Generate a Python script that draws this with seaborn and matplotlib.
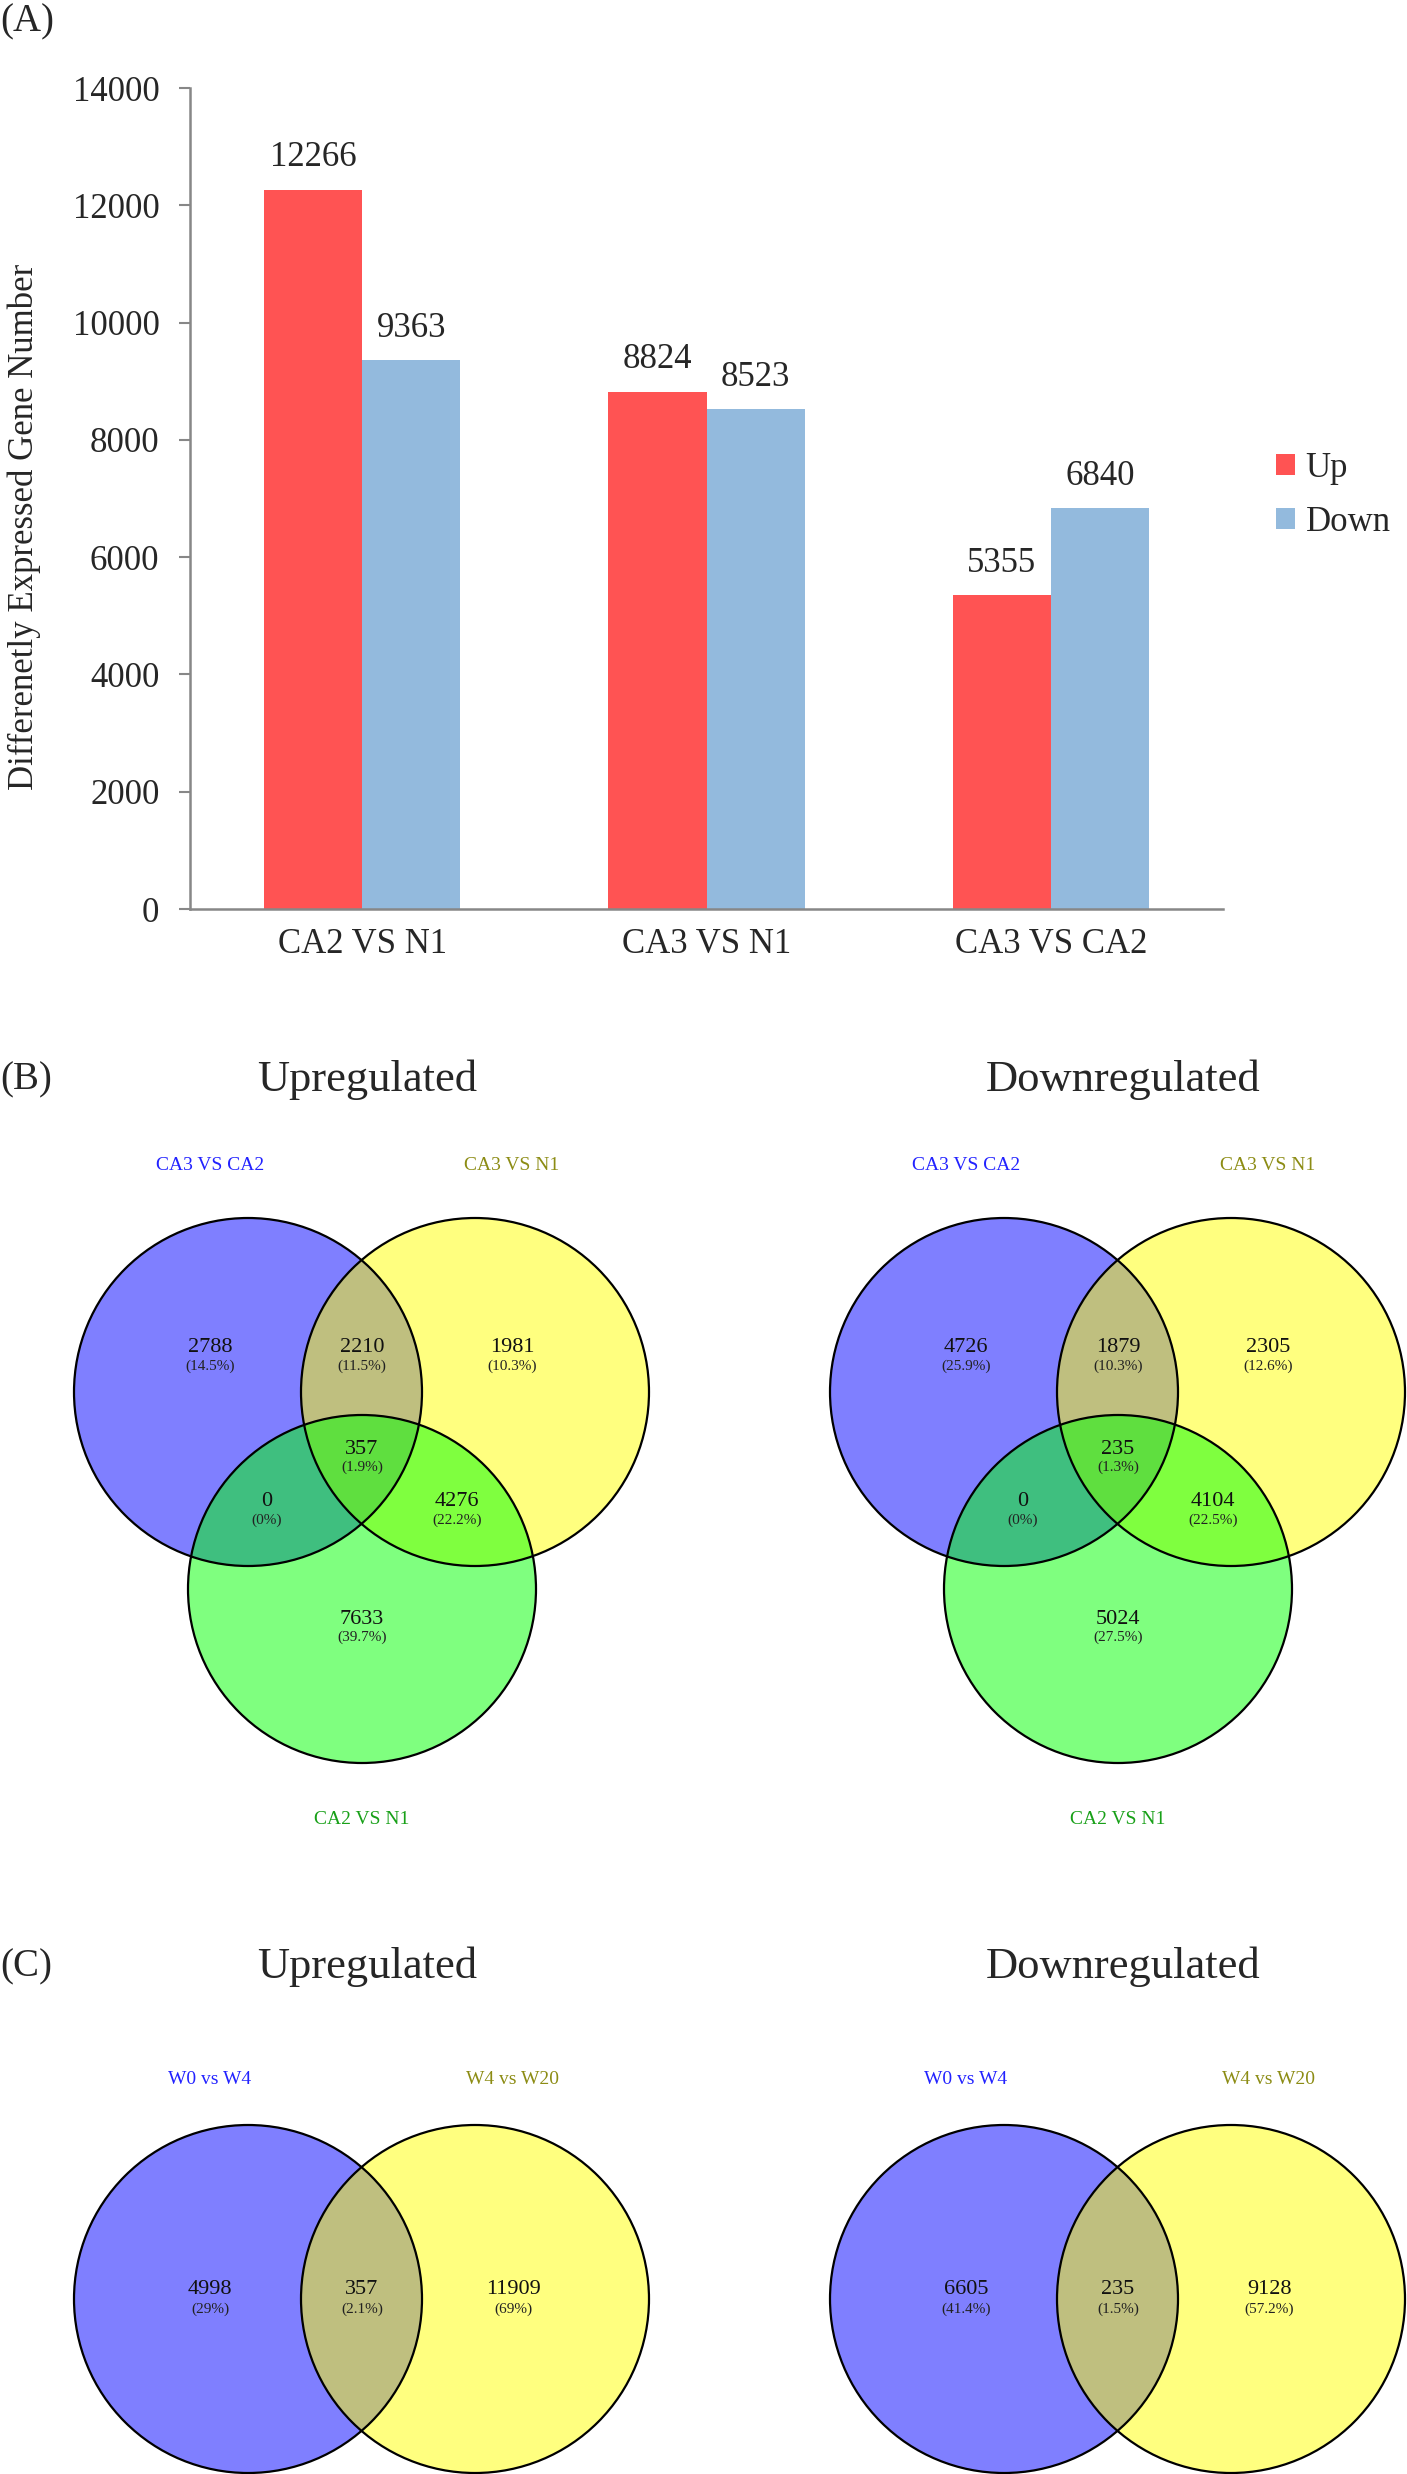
import numpy as np
import pandas as pd
import matplotlib
matplotlib.use("Agg")
import matplotlib.pyplot as plt
from matplotlib.patches import Circle
import seaborn as sns

# ---------------- data ----------------
comparisons = ["CA2 VS N1", "CA3 VS N1", "CA3 VS CA2"]
directions = ["Up", "Down"]
up_counts = [12266, 8824, 5355]
down_counts = [9363, 8523, 6840]
y_ticks = [0, 2000, 4000, 6000, 8000, 10000, 12000, 14000]

venn3_set_labels = ["CA3 VS CA2", "CA3 VS N1", "CA2 VS N1"]
# regions: A only, A&B, B only, A&B&C, A&C, B&C, C only
venn3_up_counts = [2788, 2210, 1981, 357, 0, 4276, 7633]
venn3_up_pcts = ["14.5%", "11.5%", "10.3%", "1.9%", "0%", "22.2%", "39.7%"]
venn3_down_counts = [4726, 1879, 2305, 235, 0, 4104, 5024]
venn3_down_pcts = ["25.9%", "10.3%", "12.6%", "1.3%", "0%", "22.5%", "27.5%"]

venn2_set_labels = ["W0 vs W4", "W4 vs W20"]
# regions: A only, A&B, B only
venn2_up_counts = [4998, 357, 11909]
venn2_up_pcts = ["29%", "2.1%", "69%"]
venn2_down_counts = [6605, 235, 9128]
venn2_down_pcts = ["41.4%", "1.5%", "57.2%"]

# ---------------- style ----------------
sns.set_style("white")
plt.rcParams["font.family"] = ["Liberation Serif", "DejaVu Serif"]

RED = "#FF5353"
LBLUE = "#93BADD"
AXGRAY = "#878787"

W, H = 1407, 2474
fig = plt.figure(figsize=(W / 100, H / 100), dpi=100)

# overlay axis in pixel coordinates for venn diagrams / panel text
av = fig.add_axes([0, 0, 1, 1])
av.set_xlim(0, W)
av.set_ylim(H, 0)
av.axis("off")

# ---------------- (A) bar chart ----------------
ax_l, ax_r, ax_t, ax_b = 190, 1223, 88, 909
ax = fig.add_axes([ax_l / W, 1 - ax_b / H, (ax_r - ax_l) / W, (ax_b - ax_t) / H])
df = pd.DataFrame({
    "Comparison": comparisons * 2,
    "Direction": ["Up"] * 3 + ["Down"] * 3,
    "Count": up_counts + down_counts,
})
sns.barplot(data=df, x="Comparison", y="Count", hue="Direction",
            order=comparisons, hue_order=directions,
            palette=[RED, LBLUE], width=0.57, saturation=1,
            linewidth=0, ax=ax)
for cont in ax.containers:
    ax.bar_label(cont, fmt="%d", padding=11, fontsize=25)
ax.set_xlim(-0.5, 2.5)
ax.set_ylim(0, 14000)
ax.set_yticks(y_ticks)
ax.set_yticklabels([str(t) for t in y_ticks], fontsize=25)
ax.set_xlabel("")
ax.set_ylabel("Differenetly Expressed Gene Number", fontsize=25)
ax.yaxis.set_label_coords(-0.16, 0.465)
ax.yaxis.label.set_va("center")
ax.set_xticks([0, 1, 2])
ax.set_xticklabels(comparisons, fontsize=25)
ax.set_xticks([-0.5, 0.5, 1.5, 2.5], minor=True)
ax.tick_params(axis="x", which="major", length=0, pad=14)
ax.tick_params(axis="x", which="minor", length=8, width=1.5, color=AXGRAY, direction="out")
ax.tick_params(axis="y", which="major", length=8, width=1.5, color=AXGRAY, direction="out", pad=14, left=True)
for s in ["top", "right"]:
    ax.spines[s].set_visible(False)
for s in ["left", "bottom"]:
    ax.spines[s].set_color(AXGRAY)
    ax.spines[s].set_linewidth(1.8)
ax.patch.set_alpha(0)
leg = ax.legend(loc="upper left", bbox_to_anchor=(1276 / W, 1 - 452 / H),
                bbox_transform=fig.transFigure, frameon=False, fontsize=25,
                handlelength=0.55, handleheight=0.55, handletextpad=0.3,
                labelspacing=0.6, borderpad=0, borderaxespad=0)

# panel letters and titles
av.text(0, 22, "(A)", fontsize=28, ha="left", va="center")
for yl, letter in [(1080, "(B)"), (1967, "(C)")]:
    av.text(0, yl, letter, fontsize=28, ha="left", va="center")
    av.text(367, yl, "Upregulated", fontsize=32, ha="center", va="center")
    av.text(1123, yl, "Downregulated", fontsize=32, ha="center", va="center")

# ---------------- venn diagrams ----------------
R = 174
FACE = [(0, 0, 1, 0.5), (1, 1, 0, 0.5), (0, 1, 0, 0.5)]
LABEL_COL = ["#2222FF", "#8C8C14", "#18A018"]


def draw_circles(centers):
    for (cx, cy), fc in zip(centers, FACE):
        av.add_patch(Circle((cx, cy), R, facecolor=fc, edgecolor="none", zorder=1))
    for cx, cy in centers:
        av.add_patch(Circle((cx, cy), R, fill=False, edgecolor="black", linewidth=1.6, zorder=2))


def region_text(x, y, n, p, dy):
    av.text(x, y, str(n), fontsize=16, ha="center", va="center", color="#111111", zorder=3)
    av.text(x, y + dy, "(" + p + ")", fontsize=11, ha="center", va="center", color="#222222", zorder=3)


venn3_region_off = [(-152, -44), (0, -44), (150, -44), (0, 57), (-95, 110), (95, 110), (0, 227)]
for ox, counts, pcts in [(362, venn3_up_counts, venn3_up_pcts),
                         (1118, venn3_down_counts, venn3_down_pcts)]:
    oy = 1392
    draw_circles([(ox - 114, oy), (ox + 113, oy), (ox, oy + 197)])
    for (dx, dy), n, p in zip(venn3_region_off, counts, pcts):
        region_text(ox + dx, oy + dy, n, p, 18)
    for (dx, dy), lab, col in zip([(-152, -226), (150, -226), (0, 427)], venn3_set_labels, LABEL_COL):
        av.text(ox + dx, oy + dy, lab, fontsize=14, ha="center", va="center", color=col)

venn2_region_off = [(-152, -9), (0, -9), (151, -9)]
for ox, counts, pcts in [(362, venn2_up_counts, venn2_up_pcts),
                         (1118, venn2_down_counts, venn2_down_pcts)]:
    oy = 2299
    draw_circles([(ox - 114, oy), (ox + 113, oy)])
    for (dx, dy), n, p in zip(venn2_region_off, counts, pcts):
        region_text(ox + dx, oy + dy, n, p, 19)
    for (dx, dy), lab, col in zip([(-152, -220), (151, -220)], venn2_set_labels, LABEL_COL):
        av.text(ox + dx, oy + dy, lab, fontsize=14, ha="center", va="center", color=col)

fig.savefig("out.png", dpi=100)
